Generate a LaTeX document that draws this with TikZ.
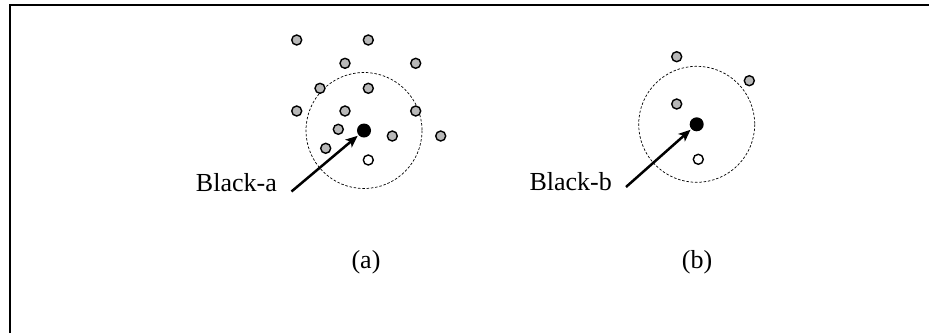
\documentclass[tikz,border=0pt]{standalone}
\usepackage{fontspec}
\setmainfont{Liberation Serif}
\usetikzlibrary{arrows.meta}
\begin{document}
\begin{tikzpicture}[x=1pt,y=-1pt,
  graydot/.style={circle,draw=black,fill=black!28,line width=1.4pt,minimum size=10pt,inner sep=0pt},
  whitedot/.style={circle,draw=black,fill=white,line width=1.4pt,minimum size=10pt,inner sep=0pt},
  blackdot/.style={circle,fill=black,minimum size=14pt,inner sep=0pt},
  rangering/.style={draw=black,dash pattern=on 2.5pt off 1.8pt,line width=0.7pt},
  pointer/.style={line width=2.5pt,-{Stealth[length=12pt,width=10pt,inset=3pt]},shorten >=1pt},
  lbl/.style={font=\fontsize{26}{30}\selectfont,inner sep=0pt}]
\useasboundingbox (0,0) rectangle (929,333);
\draw[line width=2pt] (10,333) -- (10,5) -- (935,5);
% panel (a)
\node[blackdot] (ka) at (364,130.5) {};
\draw[rangering] (ka.center) circle (58);
\foreach \n/\x/\y in {a1/296.7/40, a2/368.3/40, a3/345/63.3, a4/415.7/63.3, a5/320/88.3,
  a6/368.3/88.3, a7/296.7/111, a8/345/111, a9/415.7/111, a10/338.3/129.3,
  a11/392.3/136, a12/440.7/136, a13/325.7/148.3}
  \node[graydot] (\n) at (\x,\y) {};
\node[whitedot] (wa) at (368.3,160) {};
\node[lbl,anchor=base east] (la) at (277,191) {Black-a};
\coordinate (sa) at (291.5,191.5);
\draw[pointer] (sa) -- (ka);
\node[lbl] (capa) at (366,262) {(a)};
% panel (b)
\node[blackdot] (kb) at (696.7,124.3) {};
\draw[rangering] (kb.center) circle (58);
\node[graydot] (b1) at (676.7,56.7) {};
\node[graydot] (b2) at (749.3,80.7) {};
\node[graydot] (b3) at (676.7,104) {};
\node[whitedot] (wb) at (698.3,159.3) {};
\node[lbl,anchor=base east] (lb) at (612,190) {Black-b};
\coordinate (sb) at (626,187);
\draw[pointer] (sb) -- (kb);
\node[lbl] (capb) at (697,262) {(b)};
\end{tikzpicture}
\end{document}
